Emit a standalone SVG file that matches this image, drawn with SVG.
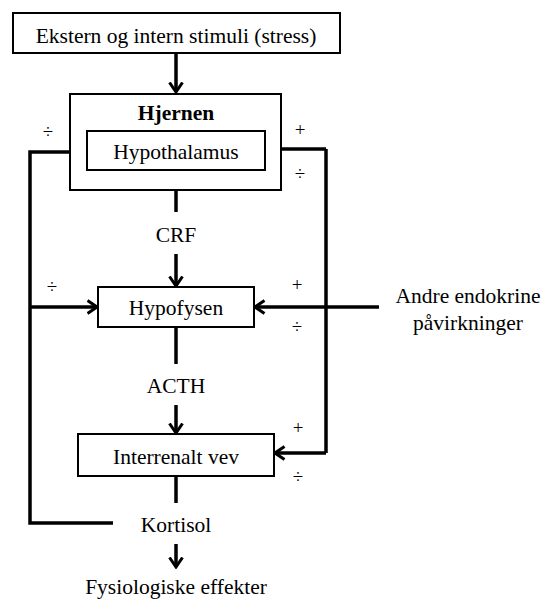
<svg xmlns="http://www.w3.org/2000/svg" width="544" height="601" viewBox="0 0 544 601" font-family="'Liberation Serif', 'Times New Roman', serif">
<defs>
<style>
text{font-family:"Liberation Serif","Times New Roman",serif;font-size:21.5px;fill:#000}
.c{text-anchor:middle}
.box{fill:#fff;stroke:#000;stroke-width:2}
.ln{fill:none;stroke:#000;stroke-width:3.5}
.sg{font-size:19px;text-anchor:middle;fill:#000}
</style>
<marker id="ah" viewBox="0 0 12 16" refX="10.5" refY="8" markerWidth="12" markerHeight="16" markerUnits="userSpaceOnUse" orient="auto">
<path d="M1,1.5 L10.5,8 L1,14.5" fill="none" stroke="#000" stroke-width="3"/>
</marker>
</defs>
<g id="connectors">
<path class="ln" d="M176,53 L176,92" marker-end="url(#ah)"/>
<path class="ln" d="M176,190 L176,212"/>
<path class="ln" d="M176,254 L176,286" marker-end="url(#ah)"/>
<path class="ln" d="M176,327 L176,364"/>
<path class="ln" d="M176,405 L176,433" marker-end="url(#ah)"/>
<path class="ln" d="M176,476 L176,503"/>
<path class="ln" d="M176,544 L176,567" marker-end="url(#ah)"/>
<path class="ln" d="M113,523 L30,523 L30,152 L86,152" marker-end="url(#ah)"/>
<path class="ln" d="M30,307 L97,307" marker-end="url(#ah)"/>
<path class="ln" d="M379,307 L255,307" marker-end="url(#ah)"/>
<path class="ln" d="M326,149 L326,453"/>
<path class="ln" d="M326,149 L266,149" marker-end="url(#ah)"/>
<path class="ln" d="M326,453 L275,453" marker-end="url(#ah)"/>
</g>
<g id="stimuli">
<rect class="box" x="13" y="13" width="327" height="40"/>
<text class="c" x="176" y="43">Ekstern og intern stimuli (stress)</text>
</g>
<g id="hjernen">
<rect class="box" x="70" y="94" width="211" height="96"/>
<text class="c" x="176" y="120" font-weight="bold">Hjernen</text>
</g>
<g id="hypothalamus">
<rect class="box" x="87" y="131" width="178" height="39"/>
<text class="c" x="176" y="159">Hypothalamus</text>
</g>
<g id="crf"><text class="c" x="176" y="242">CRF</text></g>
<g id="hypofysen">
<rect class="box" x="98" y="287" width="156" height="40"/>
<text class="c" x="176" y="315">Hypofysen</text>
</g>
<g id="acth"><text class="c" x="176" y="393">ACTH</text></g>
<g id="interrenalt">
<rect class="box" x="78" y="434" width="196" height="42"/>
<text class="c" x="176" y="464">Interrenalt vev</text>
</g>
<g id="kortisol"><text class="c" x="176" y="532">Kortisol</text></g>
<g id="effekter"><text class="c" x="176" y="594">Fysiologiske effekter</text></g>
<g id="andre">
<text class="c" x="468" y="303">Andre endokrine</text>
<text class="c" x="468" y="330">påvirkninger</text>
</g>
<g id="signs">
<text class="sg" x="48" y="138">÷</text>
<text class="sg" x="300" y="136">+</text>
<text class="sg" x="300" y="180">÷</text>
<text class="sg" x="52" y="293">÷</text>
<text class="sg" x="297" y="291">+</text>
<text class="sg" x="297" y="333">÷</text>
<text class="sg" x="298" y="434">+</text>
<text class="sg" x="298" y="483">÷</text>
</g>
</svg>
